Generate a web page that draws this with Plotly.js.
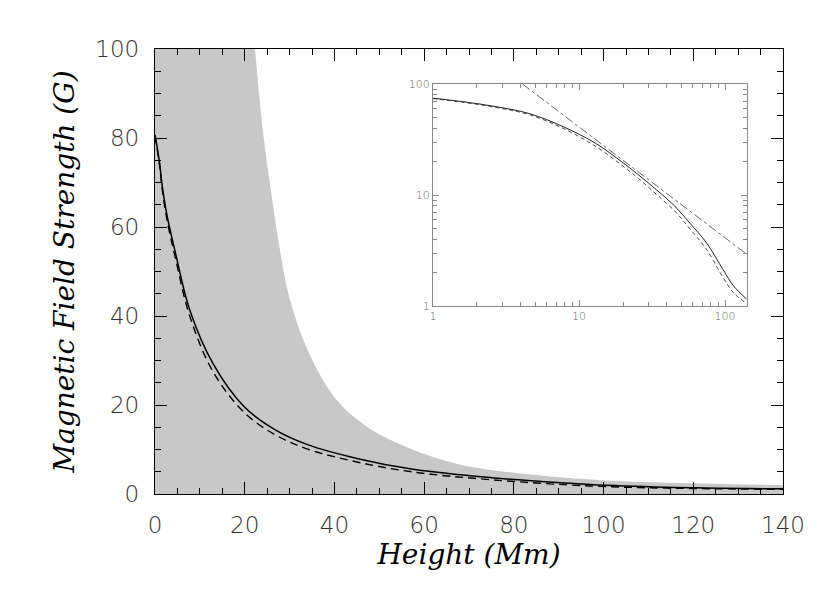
<!DOCTYPE html>
<html>
<head>
<meta charset="utf-8">
<script src="https://cdn.plot.ly/plotly-3.0.1.min.js"></script>
<style>
  html, body { margin: 0; padding: 0; background: #fff; }
  #chart { width: 830px; height: 593px; }
</style>
</head>
<body>
<div id="chart"></div>
<script>
// height in Mm, field in G
const heights = [0, 1, 1.6, 2.7, 4.6, 7.8, 13, 20, 27, 34, 45, 57.5, 75, 97, 114, 140];
const fieldSolid = [80.7, 74.5, 69.3, 62.5, 54, 41.2, 29.2, 19.5, 14.3, 11.1, 8.0, 5.56, 3.67, 2.12, 1.52, 1.16];
const fieldDashed = [80.5, 74, 68.5, 61.5, 52.8, 39.8, 27.4, 18.2, 13.2, 10.1, 7.2, 4.95, 3.2, 1.8, 1.32, 1.05];

// grey band: flat top part, then the curved upper edge
const bandTopX = [0, 22.3];
const bandTopY = [100, 100];
const bandX = [22.3, 24, 26, 28, 30, 34, 40.5, 48, 55, 62, 69.5, 84.3, 99.2, 120, 140];
const bandY = [100, 82, 67, 54, 44, 32.4, 21.1, 14.6, 11.0, 8.3, 6.3, 4.3, 3.1, 2.4, 2.0];

// power-law guide in the inset
const guideX = [4.1, 142];
const guideY = [100, 2.9];

const xTicks = [0, 20, 40, 60, 80, 100, 120, 140];
const yTicks = [0, 20, 40, 60, 80, 100];
const insetTicks = [1, 10, 100];

const tickFont = { family: "DejaVu Sans, sans-serif", size: 23, color: "#333", weight: 200 };
const titleFont = { family: "DejaVu Serif, serif", size: 28, color: "#000" };
const insetFont = { family: "DejaVu Sans, sans-serif", size: 11, color: "#666", weight: 200 };

const traces = [
  {
    x: bandTopX, y: bandTopY, type: "scatter", mode: "lines",
    fill: "tozeroy", fillcolor: "#c8c8c8", line: { width: 0 },
    hoverinfo: "skip", xaxis: "x", yaxis: "y"
  },
  {
    x: bandX, y: bandY, type: "scatter", mode: "lines",
    fill: "tozeroy", fillcolor: "#c8c8c8", line: { width: 0, shape: "spline", smoothing: 1 },
    hoverinfo: "skip", xaxis: "x", yaxis: "y"
  },
  {
    x: heights, y: fieldDashed, type: "scatter", mode: "lines",
    line: { color: "#000", width: 1.4, dash: "8px,5px", shape: "spline", smoothing: 1 },
    xaxis: "x", yaxis: "y"
  },
  {
    x: heights, y: fieldSolid, type: "scatter", mode: "lines",
    line: { color: "#000", width: 1.5, shape: "spline", smoothing: 1 },
    xaxis: "x", yaxis: "y"
  },
  {
    x: heights.slice(1), y: fieldDashed.slice(1), type: "scatter", mode: "lines",
    line: { color: "#333", width: 0.9, dash: "4px,3px", shape: "spline", smoothing: 1 },
    xaxis: "x2", yaxis: "y2"
  },
  {
    x: heights.slice(1), y: fieldSolid.slice(1), type: "scatter", mode: "lines",
    line: { color: "#222", width: 1, shape: "spline", smoothing: 1 },
    xaxis: "x2", yaxis: "y2"
  },
  {
    x: guideX, y: guideY, type: "scatter", mode: "lines",
    line: { color: "#555", width: 0.9, dash: "dashdot" }, xaxis: "x2", yaxis: "y2"
  }
];

const mainAxis = {
  showgrid: false, zeroline: false,
  showline: true, linecolor: "#000", linewidth: 1.2, mirror: "ticks",
  ticks: "inside", ticklen: 12, tickwidth: 1, tickcolor: "#000",
  tickfont: tickFont
};

const insetAxis = {
  type: "log", showgrid: false, zeroline: false,
  showline: true, linecolor: "#888", linewidth: 1, mirror: "allticks",
  ticks: "inside", ticklen: 6, tickwidth: 1, tickcolor: "#888",
  tickvals: insetTicks, ticktext: insetTicks.map(String),
  minor: { ticks: "inside", ticklen: 4, tickcolor: "#888", dtick: "D1", showgrid: false },
  tickfont: insetFont
};

const layout = {
  width: 830, height: 593,
  margin: { l: 155, r: 47, t: 49, b: 99 },
  paper_bgcolor: "#fff", plot_bgcolor: "rgba(0,0,0,0)",
  showlegend: false,
  xaxis: Object.assign({}, mainAxis, {
    domain: [0, 1], range: [0, 140], tickvals: xTicks,
    minor: { ticks: "inside", ticklen: 6, dtick: 5, tickcolor: "#000" },
    ticklabelstandoff: 10,
    title: { text: "<i>Height (Mm)</i>", font: titleFont, standoff: 6 }
  }),
  yaxis: Object.assign({}, mainAxis, {
    domain: [0, 1], range: [0, 100], tickvals: yTicks,
    minor: { ticks: "inside", ticklen: 6, dtick: 5, tickcolor: "#000" },
    ticklabelstandoff: 10,
    title: { text: "<i>Magnetic Field Strength (G)</i>", font: titleFont, standoff: 12 }
  }),
  xaxis2: Object.assign({}, insetAxis, {
    domain: [0.4427, 0.9427], range: [0, 2.15], anchor: "y2"
  }),
  yaxis2: Object.assign({}, insetAxis, {
    domain: [0.4225, 0.9213], range: [0, 2], anchor: "x2"
  })
};

Plotly.newPlot("chart", traces, layout, { displayModeBar: false, staticPlot: true });
</script>
</body>
</html>
